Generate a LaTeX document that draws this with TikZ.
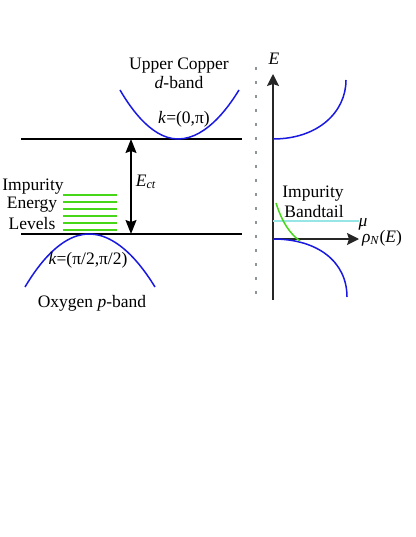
\documentclass[tikz,border=0pt]{standalone}
\usepackage{fontspec}
\setmainfont{Liberation Serif}
\usetikzlibrary{arrows.meta,positioning,calc}

\definecolor{bandblue}{RGB}{25,25,225}
\definecolor{levelgreen}{RGB}{70,215,25}
\definecolor{mucyan}{RGB}{150,230,230}
\definecolor{divgray}{RGB}{140,150,150}

\begin{document}
\begin{tikzpicture}[x=1pt, y=-1pt, font=\fontsize{17.5}{20}\selectfont,
  band/.style={draw=bandblue, line width=1.5pt},
  level/.style={draw=levelgreen, line width=1.5pt},
  edge/.style={draw=black, line width=1.5pt},
  axis/.style={draw=black!85, line width=1.7pt, -{Stealth[length=12pt,width=12pt,inset=2pt]}},
  gap/.style={draw=black, line width=1.5pt, {Stealth[length=14pt,width=11pt,inset=2pt]}-{Stealth[length=14pt,width=11pt,inset=2pt]}}]
\useasboundingbox (0,0) rectangle (415,537);

% band edges
\coordinate (cu-l) at (21,139);
\coordinate (cu-r) at (242,139);
\coordinate (ox-l) at (21,234);
\coordinate (ox-r) at (242,234);
\draw[edge] (cu-l) -- (cu-r);
\draw[edge] (ox-l) -- (ox-r);

% Upper Copper d-band
\draw[band] (120,90) parabola bend (178,139) (239,90);
\node (cutitle) at (179,66) {Upper Copper};
\node (cuname) at (179,83) {\textit{d}-band};
\node (cuk) at (184,119) {\textit{k}=(0,π)};

% Oxygen p-band
\draw[band] (25,287) parabola bend (89,234) (155,287);
\node (oxk) at (88,260) {\textit{k}=(π/2,π/2)};
\node (oxname) at (92,303) {Oxygen \textit{p}-band};

% charge transfer gap
\coordinate (ect-top) at (131,139);
\coordinate (ect-bot) at (131,234);
\draw[gap] (ect-top) -- (ect-bot);
\node (ect) at (146,182) {\textit{E}\textsubscript{\textit{ct}}};

% impurity levels
\foreach \i in {0,...,5}
  \draw[level] (63,{195+7*\i}) -- (117,{195+7*\i});
\node (imp1) at (33,187) {Impurity};
\node (imp2) at (32,205) {Energy};
\node (imp3) at (32,224) {Levels};

% divider
\draw[divgray, line width=2pt, dash pattern=on 3pt off 11pt] (256,67) -- (256,305);

% density of states
\coordinate (origin) at (273,239);
\coordinate (e-bot) at (273,300);
\coordinate (e-top) at (273,74);
\coordinate (rho-end) at (359,239);
\draw[axis] (e-bot) -- (e-top);
\node (elabel) at (274,59) {\textit{E}};
\draw[draw=mucyan, line width=1.5pt] (273,221) -- (359,221);
\draw[axis] (origin) -- (rho-end);
\node (mu) at (363,224) {\textit{μ}};
\node (rho) at (382,238) {\textit{ρ}\textsubscript{\textit{N}}(\textit{E})};
\draw[band] (273,139) .. controls (318,139) and (346,112) .. (346,80);
\draw[band] (273,239) .. controls (318,239) and (347,262) .. (347,297);
\draw[level] (276,203) .. controls (282,222) and (290,234) .. (300,241);
\node (tail1) at (313,194) {Impurity};
\node (tail2) at (314,212) {Bandtail};
\end{tikzpicture}
\end{document}
